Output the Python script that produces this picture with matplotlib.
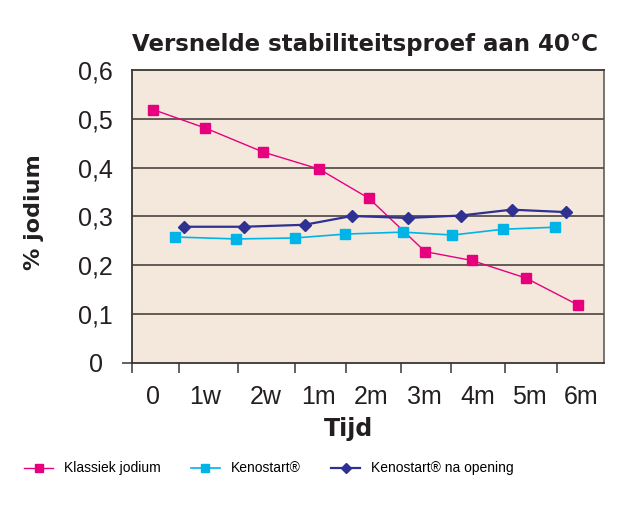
import numpy as np
import matplotlib.pyplot as plt

# category labels and where they sit on the x axis (category units, 0..9)
tijd_labels = ['0', '1w', '2w', '1m', '2m', '3m', '4m', '5m', '6m']
label_pos = [0.40, 1.40, 2.54, 3.56, 4.55, 5.58, 6.60, 7.57, 8.57]
tick_pos = [0, 0.90, 2.03, 3.10, 4.08, 5.13, 6.08, 7.11, 8.11]

# series
klassiek_x = [0.40, 1.40, 2.50, 3.57, 4.52, 5.59, 6.48, 7.51, 8.50]
klassiek_y = [0.519, 0.481, 0.432, 0.397, 0.337, 0.228, 0.210, 0.174, 0.119]

kenostart_x = [0.82, 1.99, 3.10, 4.07, 5.17, 6.11, 7.08, 8.06]
kenostart_y = [0.258, 0.254, 0.256, 0.264, 0.268, 0.262, 0.274, 0.278]

opening_x = [0.99, 2.13, 3.29, 4.19, 5.26, 6.27, 7.24, 8.27]
opening_y = [0.279, 0.279, 0.283, 0.301, 0.297, 0.302, 0.314, 0.309]

y_ticks = [0, 0.1, 0.2, 0.3, 0.4, 0.5, 0.6]
y_labels = ['0', '0,1', '0,2', '0,3', '0,4', '0,5', '0,6']

dark = '#3a3531'
txt = '#231f20'
pink = '#e6007e'
cyan = '#00b4e8'
navy = '#2e3192'

fig = plt.figure(figsize=(6.32, 5.17), dpi=100)
ax = fig.add_axes([0.2089, 0.2979, 0.7468, 0.5667])
ax.set_facecolor('#f4e8dd')

ax.set_xlim(0, 9)
ax.set_ylim(0, 0.6)

for y in y_ticks[1:-1]:
    ax.axhline(y, color=dark, lw=1.1, zorder=1)

ax.plot(klassiek_x, klassiek_y, color=pink, lw=1.0, marker='s', ms=6.5,
        mfc=pink, mec=pink, label='Klassiek jodium', zorder=3)
ax.plot(kenostart_x, kenostart_y, color=cyan, lw=1.2, marker='s', ms=6.5,
        mfc=cyan, mec=cyan, label='Kenostart®', zorder=3)
ax.plot(opening_x, opening_y, color=navy, lw=1.6, marker='D', ms=6,
        mfc=navy, mec=navy, label='Kenostart® na opening', zorder=3)

for side in ['left', 'top', 'bottom']:
    ax.spines[side].set_color(dark)
    ax.spines[side].set_linewidth(1.3)
ax.spines['right'].set_color('#55504c')
ax.spines['right'].set_linewidth(1.1)

# y axis
ax.set_yticks(y_ticks)
ax.set_yticklabels(y_labels, fontsize=18, family='Liberation Sans', color=txt)
ax.tick_params(axis='y', direction='out', length=7, width=1.1, color=dark, pad=7)
yt = ax.yaxis.get_major_ticks()
for t in yt[1:]:
    t.tick1line.set_visible(False)
yt[0].set_pad(14)

# x axis: ticks between categories, labels centred
ax.set_xticks(tick_pos)
ax.set_xticklabels([])
ax.tick_params(axis='x', which='major', direction='out', length=7, width=1.1, color=dark)
ax.set_xticks(label_pos, minor=True)
ax.set_xticklabels(tijd_labels, minor=True, fontsize=18, family='Liberation Sans', color=txt)
ax.tick_params(axis='x', which='minor', length=0, pad=16)

fig.text(0.578, 0.913, 'Versnelde stabiliteitsproef aan 40°C', ha='center', va='center',
         fontsize=16.5, fontweight='heavy', color=txt)
fig.text(0.551, 0.17, 'Tijd', ha='center', va='center', fontsize=17,
         fontweight='heavy', color=txt)
fig.text(0.054, 0.59, '% jodium', ha='center', va='center', rotation=90,
         fontsize=16, fontweight='heavy', color=txt)

fig.legend(loc='center left', bbox_to_anchor=(0.038, 0.094), ncol=3, frameon=False,
           prop={'family': 'Liberation Sans', 'size': 10}, borderpad=0, borderaxespad=0,
           handlelength=2.1, handletextpad=0.8, columnspacing=2.15, markerscale=0.8)

plt.savefig('out.png', dpi=100)
